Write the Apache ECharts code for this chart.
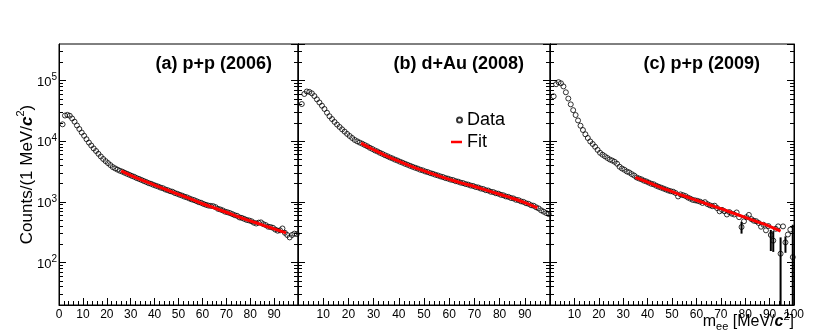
<!DOCTYPE html>
<html>
<head>
<meta charset="utf-8">
<script src="https://cdn.jsdelivr.net/npm/echarts@6/dist/echarts.min.js"></script>
<style>
  html, body { margin: 0; padding: 0; background: #fff; }
  #chart { width: 829px; height: 335px; }
</style>
</head>
<body>
<div id="chart"></div>
<script>
// 1 MeV bins, centres
const massBins = Array.from({ length: 99 }, (_, i) => i + 1.5);

// (a) p+p 2006
const countsPP06 = [
  19000, 26500, 27200, 26300, 23700, 21000, 18200, 15900, 13900, 12300,
  10800, 9500, 8500, 7600, 6900, 6200, 5600, 5100, 4700, 4360,
  4040, 3750, 3560, 3400, 3260, 3150, 3020, 2900, 2790, 2680,
  2590, 2470, 2390, 2300, 2210, 2130, 2040, 1990, 1910, 1850,
  1790, 1720, 1680, 1600, 1560, 1500, 1470, 1400, 1360, 1310,
  1270, 1220, 1190, 1140, 1100, 1070, 1030, 990, 965, 925,
  895, 870, 860, 850, 820, 770, 750, 725, 690, 675,
  655, 630, 605, 590, 555, 545, 525, 505, 495, 480,
  455, 440, 455, 460, 430, 415, 390, 385, 375, 350,
  335, 340, 365, 310, 285, 260, 285, 300, 295
];
const fitMassPP06 = [26, 30, 35, 40, 45, 50, 55, 60, 65, 70, 75, 80, 85, 90, 95];
const fitPP06 = [3236, 2735, 2265, 1884, 1585, 1334, 1122, 933, 794, 676, 569, 488, 417, 359, 309];

// (b) d+Au 2008
const countsDAu08 = [
  41000, 60000, 66000, 65000, 61500, 55500, 49000, 43500, 38500, 34000,
  29500, 25800, 23200, 20800, 18800, 17200, 15700, 14400, 13200, 12200,
  11300, 10500, 9950, 9500, 9100, 8650, 8250, 7800, 7450, 7060,
  6780, 6450, 6180, 5880, 5650, 5400, 5200, 4970, 4800, 4590,
  4430, 4240, 4090, 3930, 3790, 3650, 3540, 3390, 3310, 3170,
  3100, 2980, 2910, 2800, 2730, 2630, 2570, 2470, 2420, 2330,
  2290, 2200, 2160, 2080, 2040, 1970, 1930, 1860, 1830, 1760,
  1730, 1660, 1630, 1560, 1540, 1470, 1450, 1390, 1365, 1310,
  1285, 1230, 1210, 1160, 1140, 1085, 1070, 1020, 1000, 950,
  930, 880, 865, 815, 780, 725, 690, 655, 630
];
const fitMassDAu08 = [25, 30, 35, 40, 45, 50, 55, 60, 65, 70, 75, 80, 85, 90, 95];
const fitDAu08 = [9310, 7240, 5750, 4680, 3860, 3240, 2750, 2355, 2040, 1795, 1550, 1335, 1150, 975, 794];

// (c) p+p 2009
const countsPP09 = [
  55000, 87000, 94000, 90000, 80000, 64000, 50500, 40500, 32500, 27000,
  22000, 18000, 15300, 13000, 11300, 9900, 9000, 8100, 7200, 6450,
  6000, 5650, 5300, 5000, 4800, 4580, 4250, 3800, 3550, 3380,
  3170, 3050, 2870, 2720, 2530, 2430, 2350, 2240, 2170, 2080,
  1990, 1950, 1850, 1780, 1720, 1660, 1600, 1540, 1500, 1470,
  1400, 1230, 1330, 1290, 1250, 1180, 1130, 1080, 1060, 1040,
  1010, 960, 990, 920, 880, 850, 865, 790, 700, 740,
  700, 620, 680, 640, 620, 670, 560, 385, 480, 560,
  610, 520, 490, 480, 450, 390, 420, 340, 400, 285,
  230, 360, 395, 140, 395, 215, 290, 350, 123
];
const fitMassPP09 = [35, 40, 45, 50, 55, 60, 65, 70, 75, 80, 85, 90, 94.5];
const fitPP09 = [2541, 2113, 1758, 1479, 1250, 1064, 906, 773, 655, 555, 470, 396, 331];
const errMassPP09 = [78.5, 90.5, 91.5, 94.5, 96.5, 99.5];
const errLowPP09 = [300, 155, 150, 20, 145, 20];
const errHighPP09 = [470, 345, 330, 260, 270, 420];

const panelTitles = ['(a) p+p (2006)', '(b) d+Au (2008)', '(c) p+p (2009)'];
const xTickMin = 0, xTickMax = 100, xTickStep = 10;
const yMin = 20, yMax = 400000;

const FONT = '"Liberation Sans", Arial, Helvetica, sans-serif';
const chart = echarts.init(document.getElementById('chart'));

const zip = (xs, ys) => xs.map((x, i) => [x, ys[i]]);

// panel boxes
const grids = [
  { left: 59, top: 44, width: 239, height: 261 },
  { left: 298, top: 44, width: 252, height: 261 },
  { left: 550, top: 44, width: 244, height: 261 },
].map(g => Object.assign(g, {
  show: true, borderColor: '#000', borderWidth: 1, backgroundColor: 'transparent',
  outerBoundsMode: 'none', containLabel: false,
}));

// minor log ticks (2..9 x 10^n) on a linear log10 overlay
const yMinorTicks = [];
for (let e = 1; e <= 5; e++) {
  for (let k = 2; k <= 9; k++) {
    const v = k * Math.pow(10, e);
    if (v > yMin && v < yMax) yMinorTicks.push(Math.log10(v));
  }
}

const axisLine = { show: true, onZero: false, lineStyle: { color: '#000', width: 1 } };

const xAxes = grids.map((g, i) => ({
  type: 'value', gridIndex: i, min: xTickMin, max: xTickMax, interval: xTickStep,
  axisLine,
  axisTick: { show: true, inside: true, length: 7, lineStyle: { color: '#000' } },
  minorTick: { show: true, splitNumber: 5, length: 4, lineStyle: { color: '#000' } },
  splitLine: { show: false },
  axisLabel: {
    show: true, margin: 4, color: '#000', fontSize: 12, fontFamily: FONT,
    showMinLabel: i === 0, showMaxLabel: i === 2,
  },
  name: i === 2 ? '{n|m}{sub|ee}{n| [MeV/}{c|c}{sup|2}{n|]}' : '',
  nameLocation: 'end', nameGap: 0, nameMoveOverlap: false,
  nameTextStyle: {
    align: 'right', verticalAlign: 'top', padding: [6, 0, 0, 0], color: '#000',
    rich: {
      n: { fontSize: 16, fontFamily: FONT, color: '#000', padding: [3, 0, 2, 0] },
      c: { fontSize: 16, fontFamily: FONT, color: '#000', fontWeight: 'bold', fontStyle: 'italic', padding: [3, 0, 2, 0] },
      sub: { fontSize: 11, fontFamily: FONT, color: '#000', verticalAlign: 'bottom' },
      sup: { fontSize: 11, fontFamily: FONT, color: '#000', verticalAlign: 'top' },
    },
  },
}));

const yAxes = [];
grids.forEach((g, i) => {
  ['left', 'right'].forEach(pos => {
    const main = pos === 'left';
    yAxes.push({
      type: 'log', logBase: 10, gridIndex: i, position: pos, min: yMin, max: yMax,
      axisLine,
      axisTick: { show: true, inside: true, length: 7, lineStyle: { color: '#000' } },
      splitLine: { show: false },
      axisLabel: {
        show: main && i === 0, margin: 2, showMinLabel: false, showMaxLabel: false,
        formatter: v => '{b|10}{s|' + Math.round(Math.log10(v)) + '}',
        rich: {
          b: { fontSize: 13, fontFamily: FONT, color: '#000', padding: [3, 0, 0, 0] },
          s: { fontSize: 10, fontFamily: FONT, color: '#000', verticalAlign: 'top' },
        },
      },
      name: main && i === 0 ? '{n|Counts/(1 MeV/}{c|c}{sup|2}{n|)}' : '',
      nameLocation: 'middle', nameGap: 23, nameMoveOverlap: false,
      nameTextStyle: {
        rich: {
          n: { fontSize: 17, fontFamily: FONT, color: '#000', padding: [4, 0, 0, 0] },
          c: { fontSize: 17, fontFamily: FONT, color: '#000', fontWeight: 'bold', fontStyle: 'italic', padding: [4, 0, 0, 0] },
          sup: { fontSize: 11, fontFamily: FONT, color: '#000', verticalAlign: 'top' },
        },
      },
    });
    yAxes.push({
      type: 'value', gridIndex: i, position: pos,
      min: Math.log10(yMin), max: Math.log10(yMax),
      axisLine: { show: false, onZero: false },
      axisTick: { show: true, inside: true, length: 4, customValues: yMinorTicks, lineStyle: { color: '#000' } },
      axisLabel: { show: false },
      splitLine: { show: false },
    });
  });
});

const dataStyle = {
  type: 'scatter', name: 'Data', symbol: 'circle', symbolSize: 5,
  itemStyle: { color: 'rgba(255,255,255,0)', borderColor: '#000', borderWidth: 1 },
  z: 2, silent: true,
};
const fitStyle = {
  type: 'line', name: 'Fit', symbol: 'none', smooth: true, color: '#ff0000',
  lineStyle: { color: '#ff0000', width: 3 }, itemStyle: { color: '#ff0000' },
  z: 4, silent: true,
};

const panels = [
  [countsPP06, fitMassPP06, fitPP06],
  [countsDAu08, fitMassDAu08, fitDAu08],
  [countsPP09, fitMassPP09, fitPP09],
];

const series = [];
panels.forEach(([counts, fx, fy], i) => {
  series.push(Object.assign({}, dataStyle, { xAxisIndex: i, yAxisIndex: 4 * i, data: zip(massBins, counts) }));
  series.push(Object.assign({}, fitStyle, { xAxisIndex: i, yAxisIndex: 4 * i, data: zip(fx, fy) }));
});

series.push({
  type: 'custom', name: 'err', xAxisIndex: 2, yAxisIndex: 8, z: 3, silent: true, clip: true,
  encode: { x: 0, y: [1, 2] },
  data: errMassPP09.map((m, i) => [m, errLowPP09[i], errHighPP09[i]]),
  renderItem: (params, api) => {
    const a = api.coord([api.value(0), api.value(1)]);
    const b = api.coord([api.value(0), api.value(2)]);
    return {
      type: 'line',
      shape: { x1: a[0], y1: a[1], x2: b[0], y2: b[1] },
      style: { stroke: '#000', lineWidth: 2 },
    };
  },
});

const titleRights = [557, 305, 69];

chart.setOption({
  animation: false,
  backgroundColor: '#fff',
  textStyle: { fontFamily: FONT },
  title: panelTitles.map((t, i) => ({
    text: t, right: titleRights[i], top: 55, padding: 0,
    textStyle: { fontSize: 18, fontWeight: 'bold', color: '#000', fontFamily: FONT },
  })),
  legend: [
    {
      data: [{ name: 'Data', icon: 'circle' }], left: 456, top: 111, padding: 0,
      itemWidth: 5, itemHeight: 5, selectedMode: false,
      textStyle: { fontSize: 18, color: '#000', fontFamily: FONT },
    },
    {
      data: [{ name: 'Fit', icon: 'rect' }], left: 451, top: 133, padding: 0,
      itemWidth: 11, itemHeight: 2.5, selectedMode: false,
      textStyle: { fontSize: 18, color: '#000', fontFamily: FONT },
    },
  ],
  grid: grids,
  xAxis: xAxes,
  yAxis: yAxes,
  series,
});
</script>
</body>
</html>
